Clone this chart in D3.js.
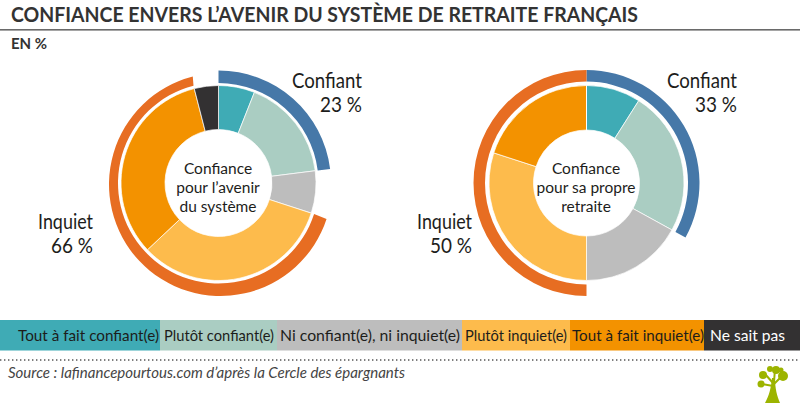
<!DOCTYPE html>
<html>
<head>
<meta charset="utf-8">
<script src="https://cdn.jsdelivr.net/npm/d3@7"></script>
<style>
body { margin: 0; background: #fff; }
svg { display: block; }
text { font-family: Lato, sans-serif; fill: #1d1d1b; }
</style>
</head>
<body>
<div id="chart"></div>
<script>
///// DATA
const categories = ['Tout à fait confiant(e)', 'Plutôt confiant(e)', 'Ni confiant(e), ni inquiet(e)', 'Plutôt inquiet(e)', 'Tout à fait inquiet(e)', 'Ne sait pas'];
const systemValues = [6, 17, 7, 33, 33, 4];
const retraiteValues = [9, 24, 17, 30, 20, 0];
const groupLabels = ['Confiant', 'Inquiet'];
const systemGroups = [23, 66];
const retraiteGroups = [33, 50];
const systemCentre = ['Confiance', 'pour l’avenir', 'du système'];
const retraiteCentre = ['Confiance', 'pour sa propre', 'retraite'];
const colors = ['#3fabb5', '#aacdc2', '#bdbdbd', '#fdbb4c', '#f39200', '#333132'];
const groupColors = ['#4678a8', '#e76d22'];

const width = 800, height = 403;
const svg = d3.select('#chart').append('svg').attr('width', width).attr('height', height);

// HEADER
svg.append('text').attr('x', 11).attr('y', 22)
    .attr('font-size', 21).attr('font-weight', 700).style('fill', '#333')
    .attr('textLength', 627).attr('lengthAdjust', 'spacingAndGlyphs')
    .text('CONFIANCE ENVERS L’AVENIR DU SYSTÈME DE RETRAITE FRANÇAIS');
svg.append('rect').attr('x', 0).attr('y', 29).attr('width', width).attr('height', 1.6).attr('fill', '#6a6a6a');
svg.append('text').attr('x', 11).attr('y', 49)
    .attr('font-size', 15).attr('font-weight', 700).style('fill', '#333').text('EN %');

// outer ring: inner edge follows the donut, outer edge can sit off-centre
function ringPath(d, angle) {
    const a0 = angle(d.a0) - Math.PI / 2;
    const a1 = angle(d.a1) - Math.PI / 2;
    const p = d3.path();
    p.arc(d.shift[0], d.shift[1], d.r1, a0, a1);
    p.arc(0, 0, d.r0, a1, a0, true);
    p.closePath();
    return p.toString();
}

// DONUT + OUTER RINGS
function drawDonut(o) {
    const g = svg.append('g').attr('transform', `translate(${o.cx}, ${o.cy})`);

    const pie = d3.pie().sort(null).value(d => d);
    const arc = d3.arc().innerRadius(o.hole).outerRadius(97.5);

    g.selectAll('.slice')
        .data(pie(o.values))
        .enter()
        .append('path')
        .attr('class', 'slice')
        .attr('d', arc)
        .attr('fill', (d, i) => colors[i])
        .attr('stroke', '#fff')
        .attr('stroke-width', 0.7);

    // angles from the same 0-100 scale as the slices
    const angle = d3.scaleLinear().domain([0, 100]).range([0, 2 * Math.PI]);
    const confiant = o.groups[0];
    const inquiet = o.groups[1];
    const rings = [
        { a0: 0, a1: confiant, color: groupColors[0], r0: o.blue[0], r1: o.blue[1], shift: [0, 0] },
        { a0: o.inquietEnd - inquiet, a1: o.inquietEnd, color: groupColors[1], r0: o.orange[0], r1: o.orange[1], shift: o.shift }
    ];
    g.selectAll('.ring')
        .data(rings)
        .enter()
        .append('path')
        .attr('class', 'ring')
        .attr('fill', d => d.color)
        .attr('d', d => ringPath(d, angle));

    // CENTRE TEXT
    g.selectAll('.centre')
        .data(o.centre)
        .enter()
        .append('text')
        .attr('class', 'centre')
        .attr('text-anchor', 'middle')
        .attr('x', -0.5)
        .attr('y', (d, i) => -9 + i * 18.8)
        .attr('font-size', 15.5)
        .text(d => d);

    // GROUP LABELS
    const labels = [
        { x: o.confiantX, y: 88, t: groupLabels[0], w: 70 },
        { x: o.confiantX, y: 112, t: confiant + ' %', w: 42 },
        { x: o.inquietX, y: 229, t: groupLabels[1], w: 55 },
        { x: o.inquietX, y: 253, t: inquiet + ' %', w: 42 }
    ];
    svg.selectAll(null)
        .data(labels)
        .enter()
        .append('text')
        .attr('text-anchor', 'end')
        .attr('x', d => d.x)
        .attr('y', d => d.y)
        .attr('font-size', 20.5)
        .attr('textLength', d => d.w)
        .attr('lengthAdjust', 'spacingAndGlyphs')
        .text(d => d.t);
}

drawDonut({
    cx: 218.5, cy: 183, hole: 53.5,
    values: systemValues, groups: systemGroups, centre: systemCentre,
    blue: [100, 112.5], orange: [100.5, 111.5], shift: [2, 1.5], inquietEnd: 96,
    confiantX: 362, inquietX: 93
});
drawDonut({
    cx: 586.5, cy: 183, hole: 53,
    values: retraiteValues, groups: retraiteGroups, centre: retraiteCentre,
    blue: [101.5, 113], orange: [101.5, 113], shift: [0, 0], inquietEnd: 100,
    confiantX: 737, inquietX: 472
});

// LEGEND
const legendEdges = [0, 160, 277, 462, 570, 704, 800];
const legendText = [18, 164, 280, 465, 572, 710];
const legendWidths = [141, 110, 180, 102, 132, 75];
const legend = svg.append('g').selectAll('g').data(categories).enter().append('g');
legend.append('rect')
    .attr('x', (d, i) => legendEdges[i])
    .attr('y', 320)
    .attr('width', (d, i) => legendEdges[i + 1] - legendEdges[i])
    .attr('height', 30.5)
    .attr('fill', (d, i) => colors[i]);
legend.append('text')
    .attr('x', (d, i) => legendText[i])
    .attr('y', 340.5)
    .attr('font-size', 16)
    .attr('textLength', (d, i) => legendWidths[i])
    .attr('lengthAdjust', 'spacingAndGlyphs')
    .style('fill', (d, i) => i === 5 ? '#fff' : '#1d1d1b')
    .text(d => d);

// FOOTER
svg.append('line')
    .attr('x1', 0).attr('x2', width).attr('y1', 360).attr('y2', 360)
    .attr('stroke', '#555').attr('stroke-width', 1.4).attr('stroke-dasharray', '1.4 2.6');
svg.append('text').attr('x', 8).attr('y', 378)
    .attr('font-size', 15).attr('font-style', 'italic').style('fill', '#444')
    .attr('textLength', 397).attr('lengthAdjust', 'spacingAndGlyphs')
    .text('Source : lafinancepourtous.com d’après la Cercle des épargnants');

// TREE LOGO
const logo = svg.append('g').attr('fill', '#9cb400').attr('stroke', '#9cb400');
logo.append('path').attr('stroke', 'none')
    .attr('d', 'M765,403 C769,396 771,388 772,378 L775,378 C775,388 777,396 780,403 Z');
logo.append('path').attr('fill', 'none').attr('stroke-width', 2)
    .attr('d', 'M773,386 L762,384 M773,383 L765,374 M774,382 L775,369 M774,384 L784,374');
logo.selectAll('circle')
    .data([[763, 375, 4], [770, 369, 3], [776, 370, 4], [783, 376, 5], [761, 384, 3.5], [781, 370, 2.5]])
    .enter()
    .append('circle')
    .attr('stroke', 'none')
    .attr('cx', d => d[0])
    .attr('cy', d => d[1])
    .attr('r', d => d[2]);
</script>
</body>
</html>
